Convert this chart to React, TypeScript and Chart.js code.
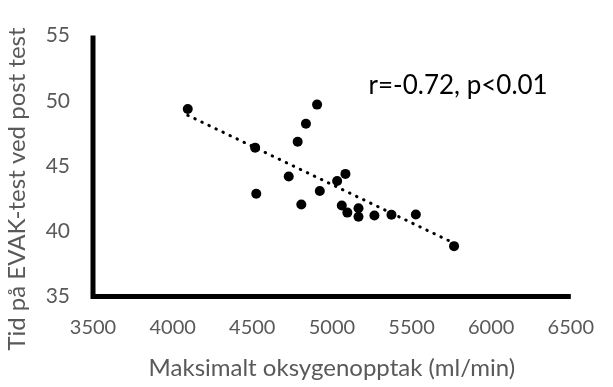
import { useEffect, useRef } from "react";
import { Chart, registerables } from "chart.js";

Chart.register(...registerables);

// VO2max (ml/min) and EVAK test time at post test, one entry per subject
const oxygenUptake = [4095, 4907, 4837, 4785, 4518, 4729, 4525, 4924, 4808, 5033, 5085, 5062, 5097, 5167, 5167, 5267, 5374, 5527, 5767];
const evakTime = [49.38, 49.71, 48.24, 46.86, 46.41, 44.2, 42.88, 43.09, 42.05, 43.86, 44.4, 41.98, 41.43, 41.76, 41.12, 41.21, 41.27, 41.29, 38.86];

const xTicks = [3500, 4000, 4500, 5000, 5500, 6000, 6500];
const yTicks = [35, 40, 45, 50, 55];

const xTitle = "Maksimalt oksygenopptak (ml/min)";
const yTitle = "Tid på EVAK-test ved post test";
const statsLabel = "r=-0.72, p<0.01";
const statsAnchor = [5230, 50.5];

const FONT = "Lato";
const GREY = "#595959";

// least-squares fit over the data range, like a spreadsheet linear trendline
function linearTrend(xs: number[], ys: number[]) {
  const n = xs.length;
  const mx = xs.reduce((a, b) => a + b, 0) / n;
  const my = ys.reduce((a, b) => a + b, 0) / n;
  let sxy = 0;
  let sxx = 0;
  for (let i = 0; i < n; i++) {
    sxy += (xs[i] - mx) * (ys[i] - my);
    sxx += (xs[i] - mx) ** 2;
  }
  const slope = sxy / sxx;
  const x0 = Math.min(...xs);
  const x1 = Math.max(...xs);
  return [
    { x: x0, y: my + slope * (x0 - mx) },
    { x: x1, y: my + slope * (x1 - mx) },
  ];
}

const axesAndLabels = {
  id: "axesAndLabels",
  afterDraw(chart: any) {
    const { ctx, chartArea, scales } = chart;
    ctx.save();
    // L-shaped axis frame
    ctx.strokeStyle = "#000";
    ctx.lineWidth = 5;
    ctx.lineJoin = "miter";
    ctx.lineCap = "butt";
    ctx.beginPath();
    ctx.moveTo(chartArea.left, chartArea.top);
    ctx.lineTo(chartArea.left, chartArea.bottom);
    ctx.lineTo(chartArea.right, chartArea.bottom);
    ctx.stroke();

    // vertical axis title
    ctx.fillStyle = GREY;
    ctx.font = `24px ${FONT}`;
    ctx.textAlign = "center";
    ctx.textBaseline = "middle";
    ctx.translate(17, 189);
    ctx.rotate(-Math.PI / 2);
    ctx.fillText(yTitle, 0, 0);
    ctx.restore();

    // correlation note
    ctx.save();
    ctx.fillStyle = "#000";
    ctx.font = `26px ${FONT}`;
    ctx.textAlign = "left";
    ctx.textBaseline = "alphabetic";
    ctx.fillText(
      statsLabel,
      scales.x.getPixelForValue(statsAnchor[0]),
      scales.y.getPixelForValue(statsAnchor[1])
    );
    ctx.restore();
  },
};

export default function App() {
  const canvasRef = useRef<HTMLCanvasElement | null>(null);

  useEffect(() => {
    let chart: Chart | null = null;
    let cancelled = false;
    const points = oxygenUptake.map((x, i) => ({ x, y: evakTime[i] }));
    const trend = linearTrend(oxygenUptake, evakTime);

    const build = () => {
      if (cancelled || !canvasRef.current) return;
      chart = new Chart(canvasRef.current, {
        type: "scatter",
        data: {
          datasets: [
            {
              data: points,
              pointRadius: 5,
              pointHoverRadius: 5,
              backgroundColor: "#000",
              borderWidth: 0,
            },
            {
              data: trend,
              showLine: true,
              pointRadius: 0,
              borderColor: "#000",
              borderWidth: 3,
              borderDash: [0.5, 7.3],
              borderCapStyle: "round",
            } as any,
          ],
        },
        options: {
          animation: false,
          responsive: false,
          layout: { padding: { top: 16.5, right: 36, left: 0, bottom: 0 } },
          plugins: { legend: { display: false }, tooltip: { enabled: false } },
          scales: {
            x: {
              type: "linear",
              min: 3500,
              max: 6500,
              afterBuildTicks: (s: any) => {
                s.ticks = xTicks.map((v) => ({ value: v }));
              },
              afterFit: (s: any) => {
                s.height = 90.5;
              },
              grid: { display: false, drawTicks: false },
              border: { display: false },
              ticks: {
                padding: 19,
                color: GREY,
                autoSkip: false,
                maxRotation: 0,
                font: { family: FONT, size: 20 },
                callback: (v: any) => String(v),
              },
              title: {
                display: true,
                text: xTitle,
                color: GREY,
                font: { family: FONT, size: 24 },
                padding: { top: 0, bottom: 4 },
              },
            },
            y: {
              type: "linear",
              min: 35,
              max: 55,
              afterBuildTicks: (s: any) => {
                s.ticks = yTicks.map((v) => ({ value: v }));
              },
              afterFit: (s: any) => {
                s.width = 93;
              },
              grid: { display: false, drawTicks: false },
              border: { display: false },
              ticks: {
                padding: 23,
                color: GREY,
                font: { family: FONT, size: 21 },
                callback: (v: any) => String(v),
              },
            },
          },
        },
        plugins: [axesAndLabels],
      });
    };

    if (document.fonts && document.fonts.load) {
      Promise.all([
        document.fonts.load(`20px ${FONT}`),
        document.fonts.load(`24px ${FONT}`),
      ]).then(build, build);
    } else {
      build();
    }

    return () => {
      cancelled = true;
      if (chart) chart.destroy();
    };
  }, []);

  return (
    <div style={{ position: "fixed", left: 0, top: 0, width: 613, height: 387, background: "#fff" }}>
      <canvas ref={canvasRef} width={613} height={387} style={{ width: 613, height: 387 }} />
    </div>
  );
}
